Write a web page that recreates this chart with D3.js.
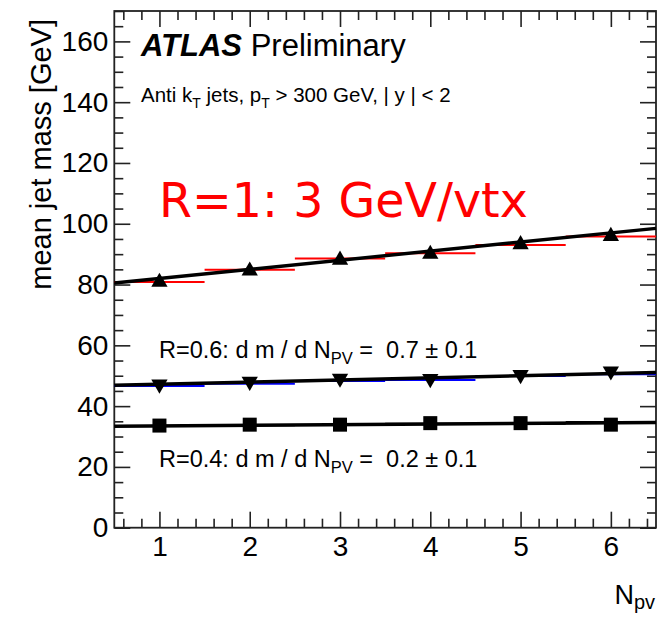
<!DOCTYPE html>
<html>
<head>
<meta charset="utf-8">
<script src="https://cdn.jsdelivr.net/npm/d3@7"></script>
<style>
  body { margin: 0; background: #fff; }
  svg { display: block; }
  .axis path, .axis line { stroke: #222; }
  .axis text { font-family: "Liberation Sans", Arial, sans-serif; font-size: 28px; fill: #000; }
</style>
</head>
<body>
<svg id="chart" width="667" height="617"></svg>
<script>
// values
const npv = [1, 2, 3, 4, 5, 6];
const binEdges = [0.5, 1.5, 2.5, 3.5, 4.5, 5.5, 6.5];

const massR10 = [80.8, 84.5, 88.1, 90.0, 93.2, 95.9];
const histR10 = [80.8, 84.9, 88.6, 90.3, 93.0, 95.8];
const massR06 = [47.2, 48.1, 49.1, 49.0, 50.3, 51.5];
const histR06 = [46.6, 47.4, 48.3, 48.6, 49.9, 50.5];
const massR04 = [33.6, 33.9, 33.9, 34.4, 34.4, 33.9];
const histR04 = [33.5, 33.7, 33.8, 34.2, 34.2, 34.8];

// straight line fits: [intercept, slope]
const fitR10 = [79.0, 3.0];
const fitR06 = [46.5, 0.7];
const fitR04 = [33.3, 0.2];

const xMajor = [1, 2, 3, 4, 5, 6];
const yMajor = [0, 20, 40, 60, 80, 100, 120, 140, 160];

const svg = d3.select("#chart");

const x = d3.scaleLinear().domain([0.5, 6.5]).range([114.3, 656]);
const y = d3.scaleLinear().domain([0, 170]).range([527.7, 11]);

const xMinor = d3.range(0.6, 6.5, 0.2).filter(v => Math.abs(v - Math.round(v)) > 0.01);
const yMinor = d3.range(0, 171, 5).filter(v => v % 20 !== 0);

function addAxis(gen, tf) {
  const g = svg.append("g").attr("class", "axis").attr("transform", tf).call(gen);
  g.select(".domain").remove();
  g.selectAll("line").attr("stroke-width", 1.6);
  return g;
}

// bottom
addAxis(d3.axisBottom(x).tickValues(xMajor).tickSize(-16).tickPadding(8).tickFormat(d3.format("d")), `translate(0,${y(0)})`);
addAxis(d3.axisBottom(x).tickValues(xMinor).tickSize(-9).tickFormat(""), `translate(0,${y(0)})`);
// top
addAxis(d3.axisTop(x).tickValues(xMajor).tickSize(-16).tickFormat(""), `translate(0,${y(170)})`);
addAxis(d3.axisTop(x).tickValues(xMinor).tickSize(-9).tickFormat(""), `translate(0,${y(170)})`);
// left
addAxis(d3.axisLeft(y).tickValues(yMajor).tickSize(-16).tickPadding(6).tickFormat(d3.format("d")), `translate(${x(0.5)},0)`);
addAxis(d3.axisLeft(y).tickValues(yMinor).tickSize(-9).tickFormat(""), `translate(${x(0.5)},0)`);
// right
addAxis(d3.axisRight(y).tickValues(yMajor).tickSize(-16).tickFormat(""), `translate(${x(6.5)},0)`);
addAxis(d3.axisRight(y).tickValues(yMinor).tickSize(-9).tickFormat(""), `translate(${x(6.5)},0)`);

// frame
svg.append("rect")
  .attr("x", x(0.5)).attr("y", y(170))
  .attr("width", x(6.5) - x(0.5)).attr("height", y(0) - y(170))
  .attr("fill", "none").attr("stroke", "#222").attr("stroke-width", 1.8);

const plot = svg.append("g");

// histograms drawn as horizontal bars per bin
function drawHist(vals, color) {
  plot.append("g").selectAll("line")
    .data(vals)
    .enter()
    .append("line")
    .attr("x1", (d, i) => x(binEdges[i]))
    .attr("x2", (d, i) => x(binEdges[i + 1]))
    .attr("y1", d => y(d))
    .attr("y2", d => y(d))
    .attr("stroke", color)
    .attr("stroke-width", 2);
}

drawHist(histR10, "#ff0000");
drawHist(histR06, "#0000ff");
drawHist(histR04, "#000");

function drawFit(p) {
  const x0 = 0.5, x1 = 6.5;
  plot.append("line")
    .attr("x1", x(x0)).attr("y1", y(p[0] + p[1] * x0))
    .attr("x2", x(x1)).attr("y2", y(p[0] + p[1] * x1))
    .attr("stroke", "#000")
    .attr("stroke-width", 3.4);
}

drawFit(fitR10);
drawFit(fitR06);
drawFit(fitR04);

// markers
const triUp = d3.symbol().type(d3.symbolTriangle).size(115);
plot.append("g").selectAll("path")
  .data(massR10)
  .enter()
  .append("path")
  .attr("d", triUp)
  .attr("transform", (d, i) => `translate(${x(npv[i])},${y(d)})`)
  .attr("fill", "#000");

plot.append("g").selectAll("path")
  .data(massR06)
  .enter()
  .append("path")
  .attr("d", triUp)
  .attr("transform", (d, i) => `translate(${x(npv[i])},${y(d)}) rotate(180)`)
  .attr("fill", "#000");

plot.append("g").selectAll("rect")
  .data(massR04)
  .enter()
  .append("rect")
  .attr("x", (d, i) => x(npv[i]) - 7)
  .attr("y", d => y(d) - 7)
  .attr("width", 14)
  .attr("height", 14)
  .attr("fill", "#000");

// texts
const sans = "'Liberation Sans', Arial, Helvetica, sans-serif";

const atlas = svg.append("text")
  .attr("x", 141).attr("y", 56)
  .attr("font-family", sans).attr("font-size", 31);
atlas.append("tspan").attr("font-weight", "bold").attr("font-style", "italic").text("ATLAS");
atlas.append("tspan").text(" Preliminary");

const sel = svg.append("text")
  .attr("x", 141).attr("y", 102)
  .attr("font-family", sans).attr("font-size", 20.5);
sel.append("tspan").text("Anti k");
sel.append("tspan").attr("font-size", 14).attr("dy", 6).text("T");
sel.append("tspan").attr("dy", -6).text(" jets, p");
sel.append("tspan").attr("font-size", 14).attr("dy", 6).text("T");
sel.append("tspan").attr("dy", -6).text(" > 300 GeV, | y | < 2");

svg.append("text")
  .attr("x", 159).attr("y", 217)
  .attr("font-family", "'DejaVu Sans', sans-serif").attr("font-size", 47.5)
  .attr("fill", "#ff0000")
  .text("R=1: 3 GeV/vtx");

function slopeLabel(yPos, radius, val) {
  const t = svg.append("text")
    .attr("x", 159).attr("y", yPos)
    .attr("font-family", sans).attr("font-size", 23.5)
    .attr("xml:space", "preserve");
  t.append("tspan").text(`R=${radius}: d m / d N`);
  t.append("tspan").attr("font-size", 16.5).attr("dy", 6).text("PV");
  t.append("tspan").attr("dy", -6).text(` =  ${val} \u00b1 0.1`);
}
slopeLabel(358, "0.6", "0.7");
slopeLabel(467, "0.4", "0.2");

// axis titles
svg.append("text")
  .attr("transform", "translate(51,19) rotate(-90)")
  .attr("text-anchor", "end")
  .attr("font-family", sans).attr("font-size", 29)
  .text("mean jet mass [GeV]");

const xt = svg.append("text")
  .attr("x", 655).attr("y", 604)
  .attr("text-anchor", "end")
  .attr("font-family", sans).attr("font-size", 27);
xt.append("tspan").text("N");
xt.append("tspan").attr("font-size", 20).attr("dy", 5).text("pv");
</script>
</body>
</html>
